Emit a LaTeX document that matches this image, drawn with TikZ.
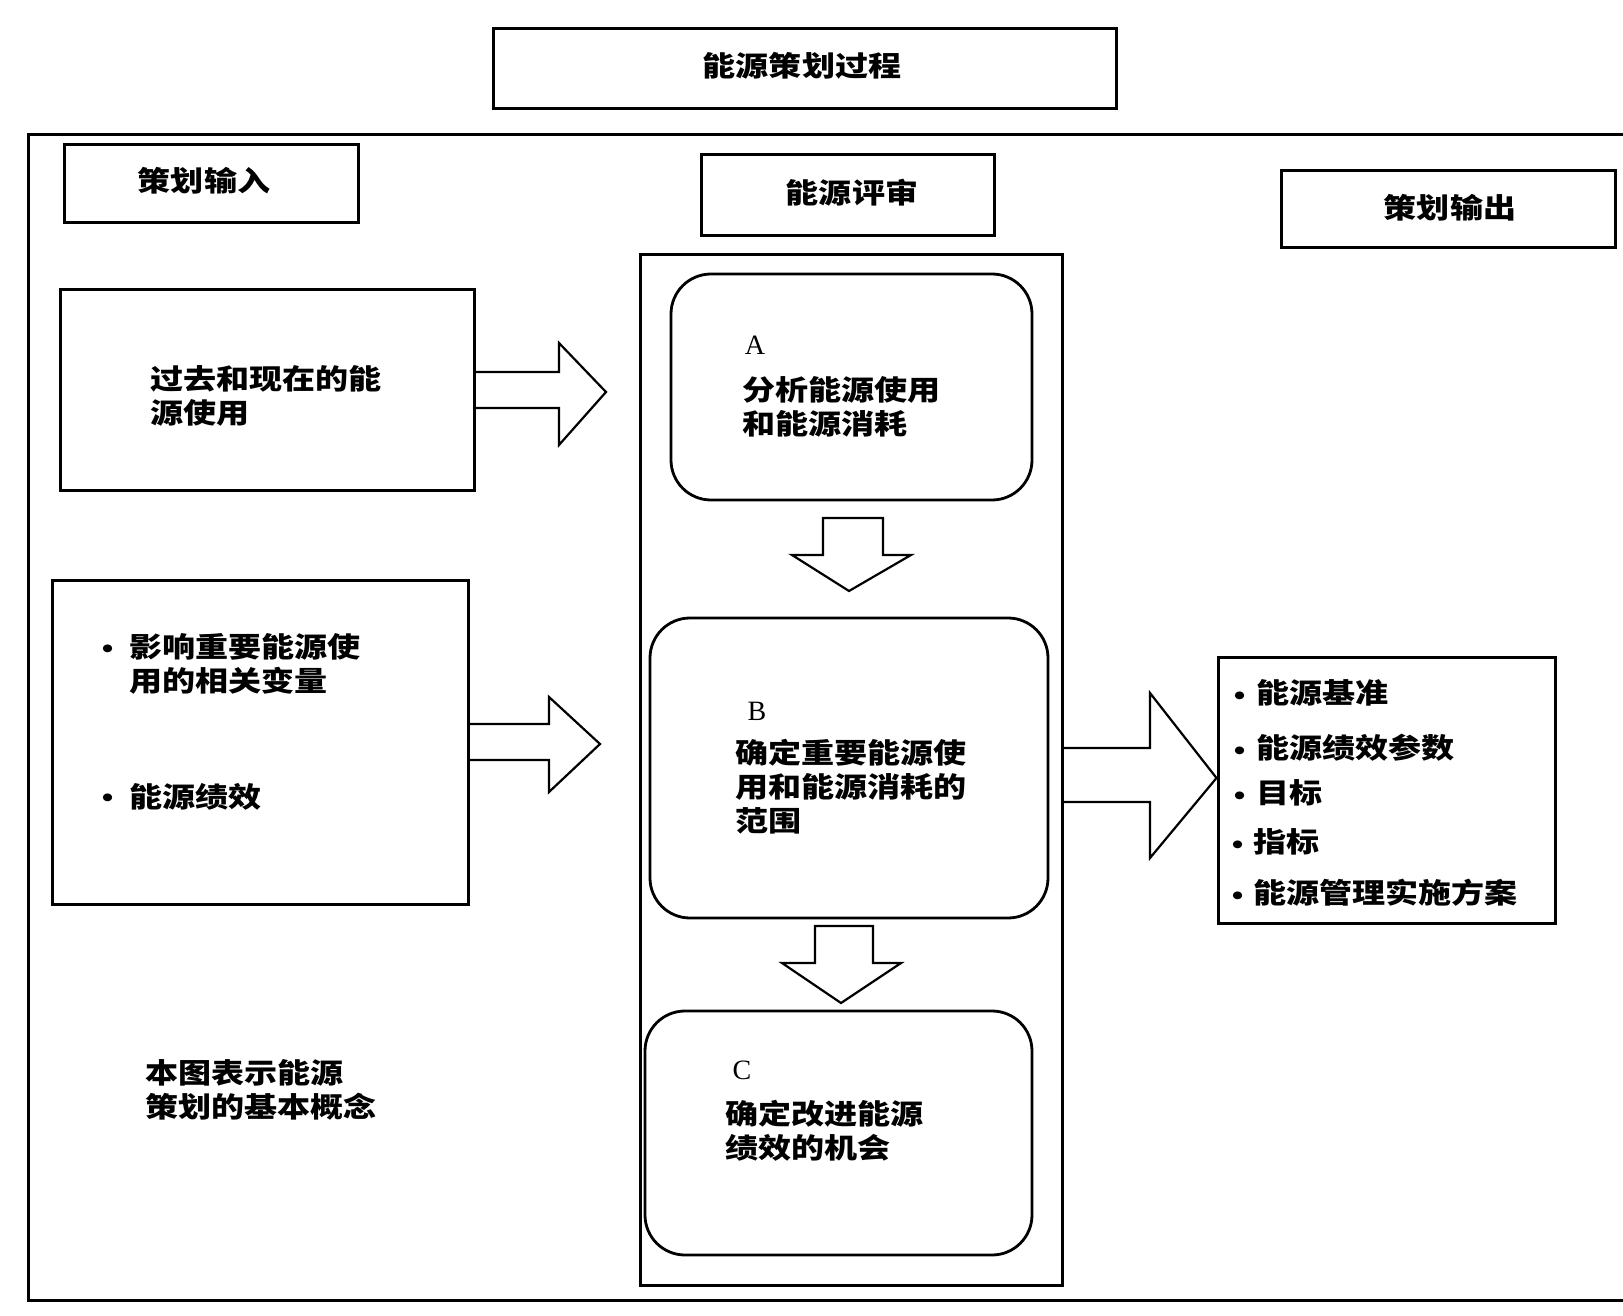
\documentclass[tikz,border=0pt]{standalone}
\usepackage{fontspec}
\setmainfont{Noto Sans CJK SC}[FakeStretch=1.18]
\newfontfamily\latinf{Liberation Serif}
\usetikzlibrary{fit}
\begin{document}
\begin{tikzpicture}[x=0.5pt,y=-0.5pt,
  box/.style={draw, line width=1.5pt, inner sep=0pt},
  rbox/.style={draw, line width=1.4pt, rounded corners=20pt, inner sep=0pt},
  blk/.style={draw, line width=1.1pt, line join=miter},
  txt/.style={font=\bfseries\fontsize{14}{17}\selectfont, align=left, inner sep=0pt},
  bul/.style={font=\bfseries\fontsize{14}{17}\selectfont, inner sep=0pt},
  lbl/.style={font=\latinf\fontsize{14}{16}\selectfont, inner sep=0pt}]
\useasboundingbox (0,0) rectangle (1623,1316);
\fill[white] (0,0) rectangle (1623,1316);

% outer frame
\draw[line width=1.5pt] (1623,135) -- (28,135) -- (28,1300) -- (1623,1300);

% title
\node[box, fit={(493,29) (1116,109)}] (title) {};
\node[txt] (titlet) at (802,66) {能源策划过程};

% column headers
\node[box, fit={(64,145) (358,223)}] (inhdr) {};
\node[txt] (inhdrt) at (204,181) {策划输入};
\node[box, fit={(701,155) (994,236)}] (revhdr) {};
\node[txt] (revhdrt) at (852,193) {能源评审};
\node[box, fit={(1281,171) (1615,248)}] (outhdr) {};
\node[txt] (outhdrt) at (1450,208) {策划输出};

% middle column frame
\node[box, fit={(640,255) (1062,1285)}] (mid) {};

% rounded boxes
\node[rbox, fit={(671,274) (1032,500)}] (boxA) {};
\node[lbl] (labA) at (755,345) {A};
\node[txt, anchor=west] (txtA) at (742,407) {分析能源使用\\和能源消耗};

\node[rbox, fit={(650,618) (1048,918)}] (boxB) {};
\node[lbl] (labB) at (757,711) {B};
\node[txt, anchor=west] (txtB) at (735,787) {确定重要能源使\\用和能源消耗的\\范围};

\node[rbox, fit={(645,1011) (1032,1255)}] (boxC) {};
\node[lbl] (labC) at (742,1070) {C};
\node[txt, anchor=west] (txtC) at (725,1131) {确定改进能源\\绩效的机会};

% down arrows
\draw[blk] (823,518) -- (883,518) -- (883,555) -- (911,555) -- (849,591) -- (792,555) -- (823,555) -- cycle;
\draw[blk] (815,926) -- (873,926) -- (873,963) -- (901,963) -- (841,1003) -- (782,963) -- (815,963) -- cycle;

% input boxes
\node[box, fit={(60,290) (474,490)}] (in1) {};
\node[txt, anchor=west] (in1t) at (150,396) {过去和现在的能\\源使用};

\node[box, fit={(52,580) (468,904)}] (in2) {};
\node[bul] (in2b1) at (108,652) {•};
\node[txt, anchor=west] (in2t1) at (129,664) {影响重要能源使\\用的相关变量};
\node[bul] (in2b2) at (108,801) {•};
\node[txt, anchor=west] (in2t2) at (129,797) {能源绩效};

% input arrows
\draw[blk] (in1.east |- 0,372) -- (559,372) -- (559,343) -- (606,392) -- (559,445) -- (559,408) -- (in1.east |- 0,408);
\draw[blk] (in2.east |- 0,724) -- (549,724) -- (549,697) -- (600,744) -- (549,792) -- (549,760) -- (in2.east |- 0,760);

% output box
\node[box, fit={(1218,657) (1555,923)}] (out) {};
\node[txt, anchor=west] (ot1) at (1256,693) {能源基准};
\node[txt, anchor=west] (ot2) at (1256,748) {能源绩效参数};
\node[txt, anchor=west] (ot3) at (1256,793) {目标};
\node[txt, anchor=west] (ot4) at (1253,842) {指标};
\node[txt, anchor=west] (ot5) at (1253,893) {能源管理实施方案};
\node[bul] (ob1) at (1240,699) {•};
\node[bul] (ob2) at (1240,754) {•};
\node[bul] (ob3) at (1240,799) {•};
\node[bul] (ob4) at (1238,848) {•};
\node[bul] (ob5) at (1238,899) {•};

% output arrow
\draw[blk] (mid.east |- 0,748) -- (1150,748) -- (1150,693) -- (out.west |- 0,778) -- (1150,858) -- (1150,802) -- (mid.east |- 0,802);

% note
\node[txt, anchor=west] (note) at (145,1090) {本图表示能源\\策划的基本概念};
\end{tikzpicture}
\end{document}
